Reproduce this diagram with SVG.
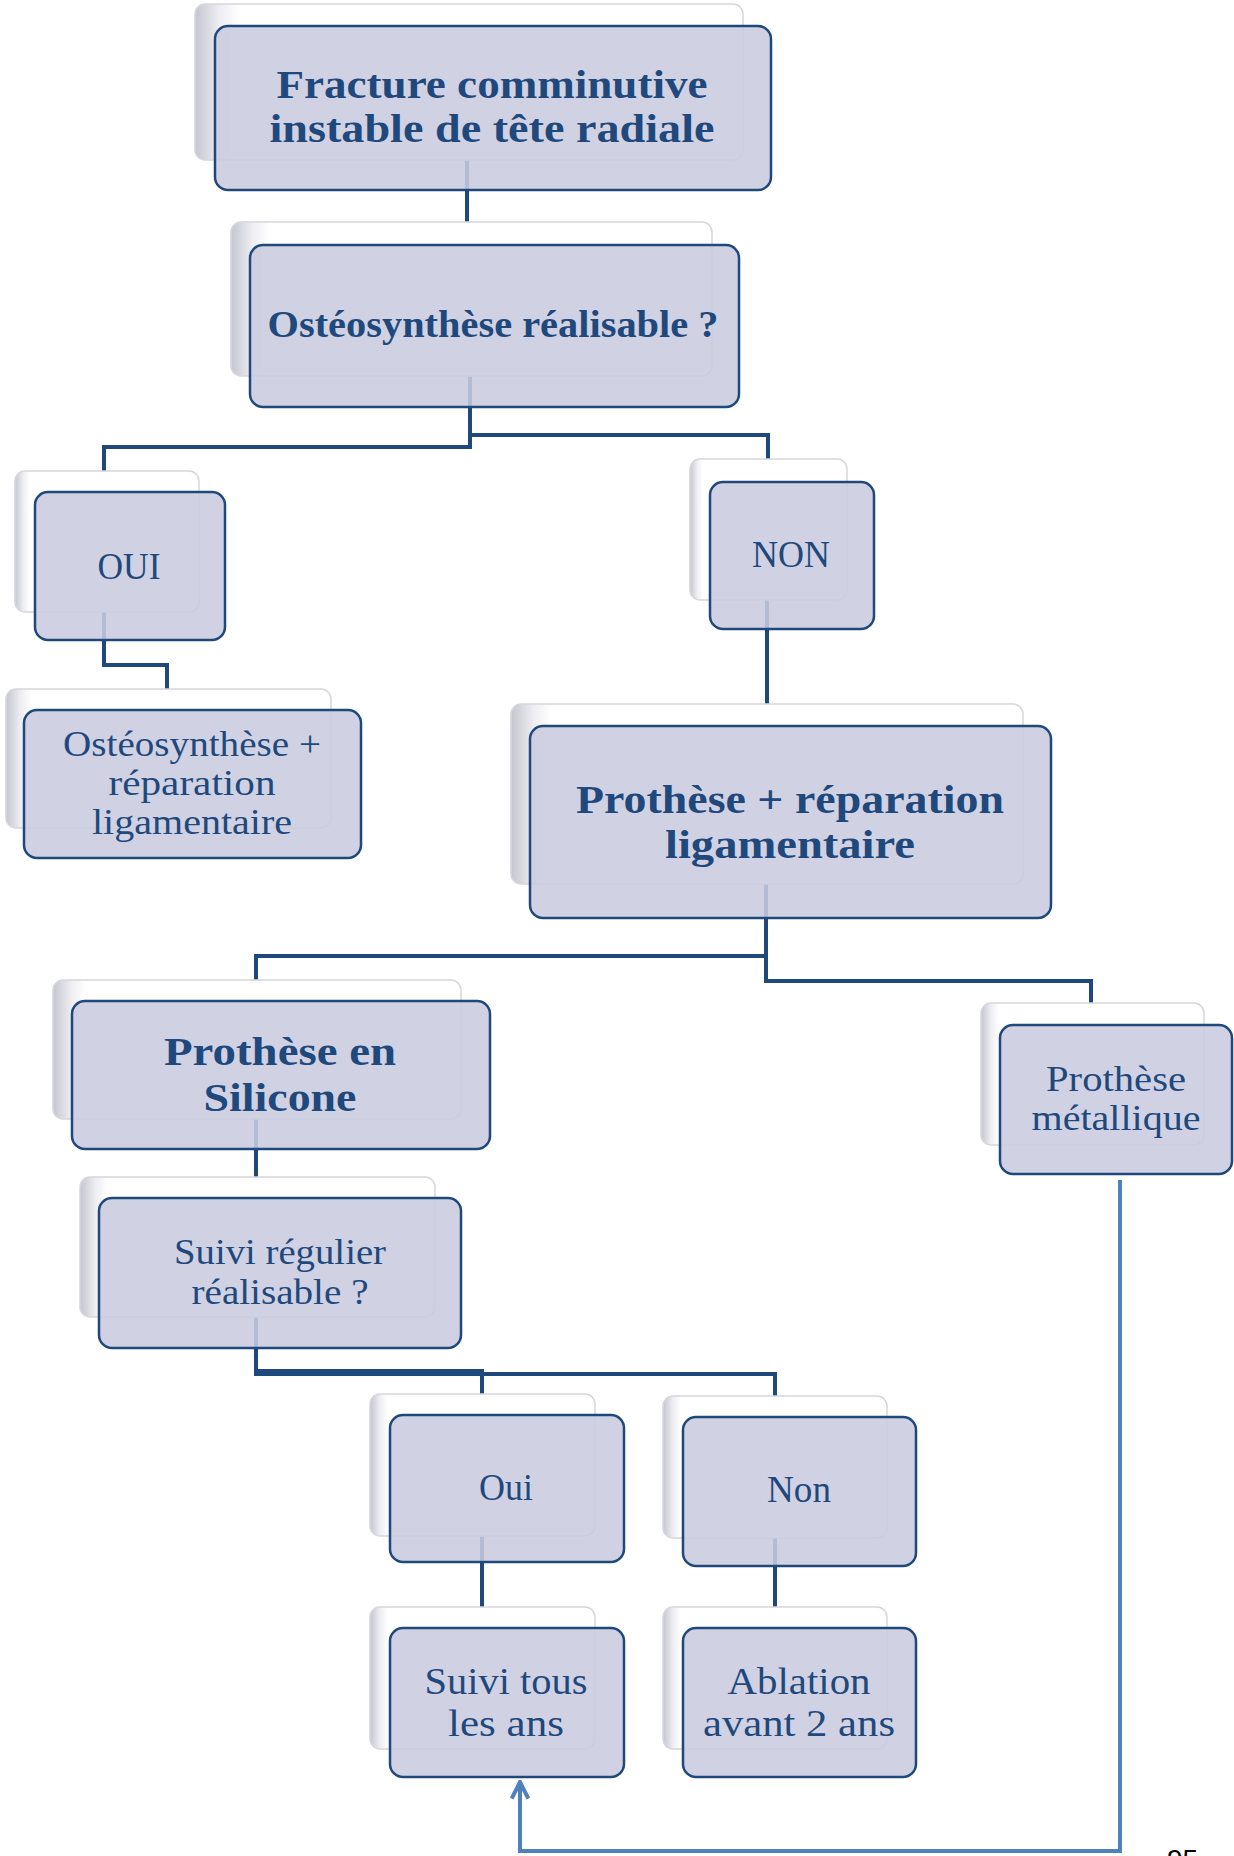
<svg xmlns="http://www.w3.org/2000/svg" width="1234" height="1856" viewBox="0 0 1234 1856">
<defs>
<linearGradient id="backGrad" x1="0" y1="0" x2="1" y2="0">
<stop offset="0" stop-color="#c4c5cf"/>
<stop offset="0.045" stop-color="#eeeef3"/>
<stop offset="0.08" stop-color="#ffffff"/>
<stop offset="1" stop-color="#ffffff"/>
</linearGradient>
<marker id="arr" viewBox="0 0 12 12" refX="11" refY="6" markerWidth="5" markerHeight="5" orient="auto" markerUnits="strokeWidth">
<path d="M1,1 L11,6 L1,11" fill="none" stroke="#4F81BD" stroke-width="2.4"/>
</marker>
</defs>
<style>
.back { fill: url(#backGrad); stroke: #d6d6dc; stroke-width: 1.5; }
.main { fill: #C9CCDF; fill-opacity: 0.88; stroke: #1F497D; stroke-width: 2.5; }
.t { font-family: "Liberation Serif", serif; fill: #1F497D; text-anchor: middle; }
.b { font-weight: bold; }
.conn { fill: none; stroke: #1F497D; stroke-width: 4; }
.conn2 { fill: none; stroke: #4F81BD; stroke-width: 4; }
</style>
<rect width="1234" height="1856" fill="#ffffff"/>

<g id="connectors">
<path class="conn" d="M467,150 V245"/>
<path class="conn" d="M470,360 V447 H104 V492"/>
<path class="conn" d="M470,360 V435 H768 V482"/>
<path class="conn" d="M104,590 V665 H167 V710"/>
<path class="conn" d="M767,580 V726"/>
<path class="conn" d="M766,860 V956 H256 V1001"/>
<path class="conn" d="M766,860 V981 H1091 V1025"/>
<path class="conn" d="M256,1100 V1198"/>
<path class="conn" d="M256,1300 V1371 H482 V1415"/>
<path class="conn" d="M256,1300 V1374 H775 V1417"/>
<path class="conn" d="M482,1520 V1628"/>
<path class="conn" d="M775,1520 V1628"/>
<path class="conn2" d="M1120,1180 V1851 H520 V1782" marker-end="url(#arr)"/>
</g>

<g id="n1">
<rect class="back" x="195" y="4" width="548" height="156" rx="10"/>
<rect class="main" x="215" y="26" width="556" height="164" rx="13"/>
<text class="t b" x="492" y="98" font-size="41" textLength="431" lengthAdjust="spacingAndGlyphs">Fracture comminutive</text>
<text class="t b" x="492" y="142" font-size="41" textLength="445" lengthAdjust="spacingAndGlyphs">instable de tête radiale</text>
</g>

<g id="n2">
<rect class="back" x="231" y="222" width="481" height="154" rx="10"/>
<rect class="main" x="250" y="245" width="489" height="162" rx="13"/>
<text class="t b" x="493" y="337" font-size="37" textLength="451" lengthAdjust="spacingAndGlyphs">Ostéosynthèse réalisable ?</text>
</g>

<g id="n3">
<rect class="back" x="15" y="471" width="184" height="141" rx="10"/>
<rect class="main" x="35" y="492" width="190" height="148" rx="13"/>
<text class="t" x="129" y="579" font-size="38" textLength="63" lengthAdjust="spacingAndGlyphs">OUI</text>
</g>

<g id="n4">
<rect class="back" x="6" y="689" width="325" height="139" rx="10"/>
<rect class="main" x="24" y="710" width="337" height="148" rx="13"/>
<text class="t" x="192" y="756" font-size="36" textLength="258" lengthAdjust="spacingAndGlyphs">Ostéosynthèse +</text>
<text class="t" x="192" y="795" font-size="36" textLength="167" lengthAdjust="spacingAndGlyphs">réparation</text>
<text class="t" x="192" y="834" font-size="36" textLength="200" lengthAdjust="spacingAndGlyphs">ligamentaire</text>
</g>

<g id="n5">
<rect class="back" x="690" y="459" width="157" height="141" rx="10"/>
<rect class="main" x="710" y="482" width="164" height="147" rx="13"/>
<text class="t" x="791" y="567" font-size="38" textLength="78" lengthAdjust="spacingAndGlyphs">NON</text>
</g>

<g id="n6">
<rect class="back" x="511" y="704" width="512" height="180" rx="10"/>
<rect class="main" x="530" y="726" width="521" height="192" rx="13"/>
<text class="t b" x="790" y="813" font-size="41" textLength="428" lengthAdjust="spacingAndGlyphs">Prothèse + réparation</text>
<text class="t b" x="790" y="858" font-size="41" textLength="250" lengthAdjust="spacingAndGlyphs">ligamentaire</text>
</g>

<g id="n7">
<rect class="back" x="53" y="980" width="408" height="139" rx="10"/>
<rect class="main" x="72" y="1001" width="418" height="148" rx="13"/>
<text class="t b" x="280" y="1065" font-size="41" textLength="232" lengthAdjust="spacingAndGlyphs">Prothèse en</text>
<text class="t b" x="280" y="1111" font-size="41" textLength="153" lengthAdjust="spacingAndGlyphs">Silicone</text>
</g>

<g id="n8">
<rect class="back" x="80" y="1177" width="355" height="140" rx="10"/>
<rect class="main" x="99" y="1198" width="362" height="150" rx="13"/>
<text class="t" x="280" y="1264" font-size="36" textLength="212" lengthAdjust="spacingAndGlyphs">Suivi régulier</text>
<text class="t" x="280" y="1304" font-size="36" textLength="177" lengthAdjust="spacingAndGlyphs">réalisable ?</text>
</g>

<g id="n9">
<rect class="back" x="981" y="1003" width="223" height="142" rx="10"/>
<rect class="main" x="1000" y="1025" width="232" height="149" rx="13"/>
<text class="t" x="1116" y="1091" font-size="36" textLength="140" lengthAdjust="spacingAndGlyphs">Prothèse</text>
<text class="t" x="1116" y="1130" font-size="36" textLength="169" lengthAdjust="spacingAndGlyphs">métallique</text>
</g>

<g id="n10">
<rect class="back" x="370" y="1394" width="225" height="142" rx="10"/>
<rect class="main" x="390" y="1415" width="234" height="147" rx="13"/>
<text class="t" x="506" y="1500" font-size="37" textLength="54" lengthAdjust="spacingAndGlyphs">Oui</text>
</g>

<g id="n11">
<rect class="back" x="663" y="1396" width="224" height="142" rx="10"/>
<rect class="main" x="683" y="1417" width="233" height="149" rx="13"/>
<text class="t" x="799" y="1502" font-size="37" textLength="64" lengthAdjust="spacingAndGlyphs">Non</text>
</g>

<g id="n12">
<rect class="back" x="370" y="1607" width="225" height="142" rx="10"/>
<rect class="main" x="390" y="1628" width="234" height="149" rx="13"/>
<text class="t" x="506" y="1694" font-size="38" textLength="163" lengthAdjust="spacingAndGlyphs">Suivi tous</text>
<text class="t" x="506" y="1736" font-size="38" textLength="116" lengthAdjust="spacingAndGlyphs">les ans</text>
</g>

<g id="n13">
<rect class="back" x="663" y="1607" width="224" height="142" rx="10"/>
<rect class="main" x="683" y="1628" width="233" height="149" rx="13"/>
<text class="t" x="799" y="1694" font-size="38" textLength="143" lengthAdjust="spacingAndGlyphs">Ablation</text>
<text class="t" x="799" y="1736" font-size="38" textLength="192" lengthAdjust="spacingAndGlyphs">avant 2 ans</text>
</g>

<text x="1167" y="1869" font-family="Liberation Sans, sans-serif" font-size="28" fill="#000000">95</text>
</svg>
